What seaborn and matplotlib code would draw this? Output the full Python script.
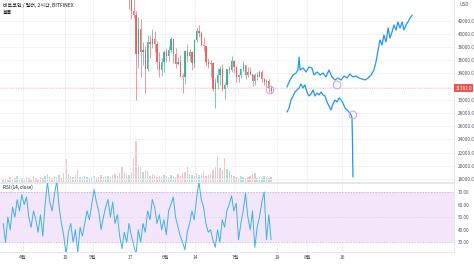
import numpy as np
import pandas as pd
import matplotlib
matplotlib.use("Agg")
import matplotlib.pyplot as plt
import matplotlib.transforms as mtransforms
import seaborn as sns

sns.set_style("white")
plt.rcParams['font.family'] = ['Noto Sans CJK KR', 'DejaVu Sans']

# ---------------- data (days counted from 1 April) ----------------
candle_day = list(range(44, 108))
opens = [49900, 46760, 46430, 43540, 42900, 37000, 40700, 37300, 37500, 34700,
         38700, 38400, 39300, 38500, 35700, 34600, 35700, 37300, 36700, 37600,
         39200, 36900, 35500, 35800, 33600, 33400, 37400, 36700, 37300, 35550,
         39100, 40500, 40150, 38350, 38100, 35800, 35500, 35600, 31650, 32500,
         33700, 34650, 31650, 32200, 34650, 34450, 35850, 35050, 33500, 33800,
         34700, 35300, 33700, 34200, 33850, 32880, 33800, 33500, 34250, 33100,
         32700, 32800, 31800, 31400]
highs = [50700, 49800, 46600, 45800, 43500, 42500, 42200, 38800, 38200, 39900,
         39800, 40800, 40400, 38900, 37300, 36400, 37500, 37900, 38200, 39500,
         39300, 37900, 36500, 36800, 34000, 37500, 38400, 37700, 37400, 39300,
         41000, 41300, 40500, 39600, 38200, 36400, 36100, 35700, 33300, 34800,
         35200, 35500, 32700, 34700, 35200, 36600, 36000, 35100, 33900, 34900,
         35900, 35300, 35000, 35000, 33900, 34100, 34200, 34600, 34600, 33300,
         33100, 33200, 32300, 31900]
lows = [46600, 43800, 42200, 42400, 30000, 34800, 33500, 35300, 31100, 34400,
        36400, 37800, 37200, 34700, 33400, 33600, 34200, 35700, 35900, 37200,
        35600, 34800, 35300, 33400, 31000, 32400, 35800, 35900, 34600, 34800,
        38800, 39600, 38200, 37400, 35200, 34800, 33400, 31300, 28800, 31700,
        32300, 31300, 30200, 32000, 33900, 34200, 34000, 32700, 32700, 33300,
        34300, 33200, 33500, 33800, 32100, 32300, 33000, 33400, 32700, 32300,
        31600, 31200, 31100, 31200]
closes = [46760, 46430, 43540, 42900, 37000, 40700, 37300, 37500, 34700, 38700,
          38400, 39300, 38500, 35700, 34600, 35700, 37300, 36700, 37600, 39200,
          36900, 35500, 35800, 33600, 33400, 37400, 36700, 37300, 35550, 39100,
          40500, 40150, 38350, 38100, 35800, 35500, 35600, 31650, 32500, 33700,
          34650, 31650, 32200, 34650, 34450, 35850, 35050, 33500, 33800, 34700,
          35300, 33700, 34200, 33850, 32880, 33800, 33500, 34250, 33100, 32700,
          32800, 31800, 31400, 31782]

series_day = list(range(-9, 107))
volume = [3, 4, 2, 5, 3, 4, 6, 3, 4,
          3, 5, 4, 3, 6, 4, 3, 5, 4, 6,
          8, 5, 4, 6, 5, 7, 4, 9, 23, 8,
          6, 5, 7, 12, 5, 4, 6, 5, 4, 5,
          6, 4, 5, 7, 5, 6, 6, 5, 7, 8,
          6, 9, 16, 10, 8, 7, 9, 24, 41, 17,
          16, 10, 12, 11, 6, 8, 7, 5, 6, 5,
          7, 6, 5, 7, 6, 5, 8, 6, 9, 10,
          16, 8, 7, 6, 9, 7, 8, 10, 6, 7,
          8, 12, 15, 26, 14, 12, 24, 13, 11, 7,
          6, 5, 4, 6, 5, 4, 5, 6, 8, 9,
          4, 5, 4, 6, 5, 4, 5]
rsi = [45, 30, 50, 40, 58, 50, 64, 55, 68,
       60, 66, 50, 42, 55, 48, 38, 52, 35, 60,
       78, 62, 55, 68, 79, 58, 45, 35, 20, 38,
       45, 30, 40, 22, 42, 35, 45, 55, 48, 60,
       72, 62, 55, 40, 50, 58, 64, 50, 62, 45,
       52, 35, 25, 38, 30, 45, 35, 28, 20, 40,
       30, 45, 38, 55, 48, 64, 58, 45, 52, 40,
       48, 36, 55, 60, 66, 50, 42, 35, 30, 24,
       38, 45, 55, 48, 65, 78, 64, 58, 45, 38,
       40, 32, 26, 40, 30, 48, 42, 55, 60, 67,
       55, 61, 32, 45, 55, 69, 50, 40, 55, 26,
       42, 50, 62, 70, 32, 52, 32]

upper_day = [113.3, 114.6, 115.9, 117.2, 118.0, 118.5, 118.9, 120.2, 121.5, 122.7,
             124.0, 124.9, 126.2, 127.5, 128.8, 130.0, 131.3, 132.6, 133.9, 135.2,
             136.5, 137.8, 139.1, 140.3, 141.6, 142.9, 144.2, 145.5, 146.8, 148.1,
             149.4, 150.6, 151.5, 152.4, 153.2, 154.1, 154.9, 155.8, 156.7, 157.5,
             158.4, 159.2, 160.1, 160.9, 161.8, 162.7, 163.5, 164.4, 165.2, 166.1, 167.0]
upper_price = [31949, 33010, 33768, 34071, 34526, 36497, 34526, 34830, 34223, 34981,
               34830, 33768, 34223, 33768, 34071, 33465, 34526, 33465, 33010, 33313,
               33010, 33616, 33313, 33920, 33465, 33616, 33313, 33162, 33010, 33313,
               33768, 34526, 35739, 37558, 39074, 38316, 39832, 38771, 40893, 39377,
               40287, 41348, 40590, 41803, 40893, 41803, 40590, 41348, 41803, 42409, 42864]
lower_day = [113.3, 114.2, 115.0, 115.9, 116.7, 117.6, 118.5, 119.3, 120.2, 121.0,
             121.9, 122.7, 123.6, 124.5, 125.3, 126.2, 127.0, 127.9, 128.8, 129.6,
             130.5, 131.3, 132.2, 133.0, 133.9, 134.8, 135.6, 136.5, 137.3, 138.2,
             139.1, 139.9, 140.8, 141.2, 141.4, 141.6]
lower_price = [28159, 28765, 29978, 30584, 31191, 31494, 31797, 32404, 31797, 32252,
               31191, 30584, 30888, 31494, 30584, 31039, 30736, 31191, 30736, 30584,
               29675, 29068, 28462, 29371, 29978, 29675, 30281, 29978, 29523, 28765,
               28462, 28159, 27704, 27249, 23914, 18305]
marker_day = [106.0, 134.8, 141.6]
marker_price = [31494, 32252, 27704]
last_price = 31782.0

price_ticks = [18000, 20000, 22000, 24000, 26000, 28000, 30000, 32000,
               34000, 36000, 38000, 40000, 42000]
rsi_ticks = [30, 40, 50, 60, 70]
time_tick_day = [0, 18, 30, 46, 61, 74, 91, 109, 122, 137]
time_tick_labels = ["4월", "19", "5월", "17", "6월", "14", "7월", "19", "8월", "16"]
title_text = "비트코인 / 달러, 2시간, BITFINEX"
volume_label = "볼륨"
rsi_label = "RSI (14, close)"

# ---------------- styling ----------------
UP, DOWN = "#26a69a", "#ef5350"
BLUE = "#2196f3"
GRID = "#f0f3fa"
TXT = "#50535e"
BORDER = "#e0e3eb"
LABEL_FS = 3.3

W, H = 474, 264
fig = plt.figure(figsize=(W / 100, H / 100), dpi=100)
fig.patch.set_facecolor("white")
ax = fig.add_axes([0, 1 - 182 / H, 454 / W, 182 / H])
axr = fig.add_axes([0, 1 - 252 / H, 454 / W, 69 / H], sharex=ax)

xlim = (-9.87, 184.98)

# volume overlay
axv = ax.twinx()
axv.set_zorder(ax.get_zorder() - 1)
ax.patch.set_visible(False)
rsi_arr = np.array(rsi)
vol_up = np.r_[True, np.diff(rsi_arr) >= 0]
vcols = [UP if u else DOWN for u in vol_up]
axv.bar(np.array(series_day) + 0.5, volume, width=0.6, color=vcols, alpha=0.35, linewidth=0)
axv.set_ylim(0, 182)
axv.set_yticks([])
for s in axv.spines.values():
    s.set_visible(False)

# grid
for d in time_tick_day:
    ax.axvline(d, color=GRID, lw=0.6, zorder=0)
    axr.axvline(d, color=GRID, lw=0.6, zorder=0)
for p in price_ticks:
    ax.axhline(p, color=GRID, lw=0.6, zorder=0)

# candles
cd = np.array(candle_day) + 0.5
o, h, l, c = map(np.array, (opens, highs, lows, closes))
ccol = np.where(c >= o, UP, DOWN)
ax.vlines(cd, l, h, colors=ccol, lw=0.5, alpha=0.85, zorder=2)
ax.bar(cd, np.maximum(np.abs(c - o), 60), bottom=np.minimum(o, c), width=0.55,
       color=ccol, alpha=0.85, linewidth=0, zorder=2)

# last price line
ax.axhline(last_price, color=DOWN, lw=0.5, ls=(0, (1, 1.5)), alpha=0.6, zorder=1)

# projection lines
proj = pd.DataFrame({"day": upper_day + lower_day,
                     "price": upper_price + lower_price,
                     "path": ["upper"] * len(upper_day) + ["lower"] * len(lower_day)})
sns.lineplot(data=proj, x="day", y="price", units="path", estimator=None, sort=False,
             color=BLUE, lw=0.9, ax=ax, zorder=3)

ax.scatter(marker_day, marker_price, s=30, facecolors="none", edgecolors="#d4a5e3",
           linewidths=0.8, zorder=4)

ax.set_xlim(*xlim)
ax.set_ylim(17546, 45138)
ax.yaxis.tick_right()
ax.set_yticks(price_ticks)
ax.set_yticklabels(["" if abs(p - last_price) < 1000 else f"{p:.1f}" for p in price_ticks])
ax.tick_params(axis="y", length=0, labelsize=LABEL_FS, labelcolor=TXT, pad=2.5)
ax.tick_params(axis="x", length=0, labelbottom=False)
ax.set_xlabel("")
ax.set_ylabel("")
for k, s in ax.spines.items():
    s.set_visible(k in ("right", "bottom"))
    s.set_color(BORDER)
    s.set_linewidth(0.6)

trans = mtransforms.blended_transform_factory(ax.transAxes, ax.transData)
ax.text(1.003, last_price, f"{last_price:.1f}", transform=trans, ha="left", va="center",
        fontsize=LABEL_FS, color="white", zorder=10, clip_on=False,
        bbox=dict(boxstyle="square,pad=0.3", fc=DOWN, ec="none"))

# RSI pane
axr.axhspan(30, 70, color="#f3e6fb", zorder=0, lw=0)
for v in (30, 70):
    axr.axhline(v, color="#b9a7c8", lw=0.5, ls=(0, (2, 2)), zorder=1)
axr.axhline(50, color="#d6c8e2", lw=0.4, ls=(0, (2, 2)), zorder=1)
sns.lineplot(x=np.array(series_day) + 0.5, y=rsi, color="#3fb1e3", lw=0.7, ax=axr, zorder=3)
axr.set_ylim(22.29, 77.16)
axr.yaxis.tick_right()
axr.set_yticks(rsi_ticks)
axr.set_yticklabels([f"{v:.2f}" for v in rsi_ticks])
axr.tick_params(axis="y", length=0, labelsize=LABEL_FS, labelcolor=TXT, pad=2.5)
axr.set_xticks(time_tick_day)
axr.set_xticklabels(time_tick_labels)
axr.tick_params(axis="x", length=0, labelsize=3.6, labelcolor=TXT, pad=2.5)
axr.set_xlim(*xlim)
axr.set_xlabel("")
axr.set_ylabel("")
for k, s in axr.spines.items():
    s.set_visible(k in ("right", "top", "bottom"))
    s.set_color(BORDER)
    s.set_linewidth(0.6)

# texts
fig.text(3 / W, 1 - 5 / H, title_text, fontsize=3.6, color="#131722", ha="left", va="center")
fig.text(3 / W, 1 - 12 / H, volume_label, fontsize=3.6, color="#131722", ha="left", va="center")
fig.text(3 / W, 1 - 187 / H, rsi_label, fontsize=3.4, color="#131722", ha="left", va="center")
fig.text(464 / W, 1 - 5 / H, "USD", fontsize=3.4, color=TXT, ha="center", va="center")

fig.savefig("out.png", dpi=100, facecolor="white")
